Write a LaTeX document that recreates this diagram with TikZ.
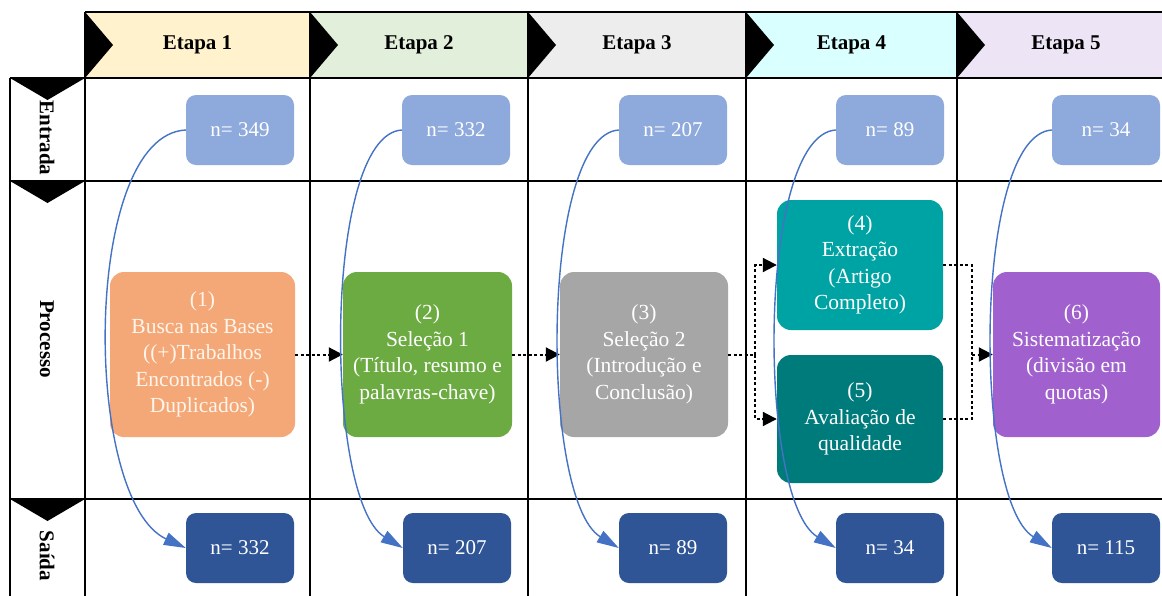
\documentclass[tikz,border=0pt]{standalone}
\usepackage{fontspec}
\setmainfont{Liberation Serif}
\usetikzlibrary{arrows.meta,calc}
\definecolor{hA}{HTML}{FFF2CC}
\definecolor{hB}{HTML}{E2EFDA}
\definecolor{hC}{HTML}{EDEDED}
\definecolor{hD}{HTML}{D9FFFF}
\definecolor{hE}{HTML}{EDE5F6}
\definecolor{inC}{HTML}{8EA9DB}
\definecolor{outC}{HTML}{2F5597}
\definecolor{pA}{HTML}{F4A878}
\definecolor{pB}{HTML}{6CAB42}
\definecolor{pC}{HTML}{A6A6A6}
\definecolor{pD}{HTML}{00A3A3}
\definecolor{pE}{HTML}{007B7B}
\definecolor{pF}{HTML}{A061CF}
\definecolor{curveC}{HTML}{4472C4}
\tikzset{
  gridline/.style={line width=2pt,black},
  nbox/.style={rounded corners=10pt,minimum width=108pt,minimum height=70pt,inner sep=0pt,
    text=white,font=\fontsize{21}{24}\selectfont},
  inbox/.style={nbox,fill=inC},
  outbox/.style={nbox,fill=outC},
  pbox/.style={rounded corners=14pt,inner sep=0pt,align=center,text=white,
    font=\fontsize{21.5}{26.5}\selectfont},
  hdr/.style={font=\bfseries\fontsize{21}{24}\selectfont},
  rowlab/.style={font=\bfseries\fontsize{21}{24}\selectfont,rotate=-90},
  dotc/.style={line width=2pt,black,dash pattern=on 3pt off 2.5pt},
  dotarrow/.style={dotc,-{Triangle[length=14pt,width=14pt]}},
  flow/.style={line width=1.4pt,curveC,-{Triangle[length=22pt,width=13pt]}},
}
\newcommand{\flowcurve}[3]{%
  \draw[flow] (#1.west) .. controls ($(#1.west)+(-#3,5)$) and ($(#2.west)+(-#3,-48)$) .. (#2.west);}
\begin{document}
\begin{tikzpicture}[x=1pt,y=-1pt]
\useasboundingbox (0,0) rectangle (1162,595);
\fill[white] (0,0) rectangle (1162,595);
% header fills
\fill[hA] (85,12) rectangle (310,78);
\fill[hB] (310,12) rectangle (528,78);
\fill[hC] (528,12) rectangle (746,78);
\fill[hD] (746,12) rectangle (957,78);
\fill[hE] (957,12) rectangle (1175,78);
% header triangles
\foreach \x in {85,310,528,746,957}{
  \fill[black] (\x,12) -- (\x+28,45) -- (\x,78) -- cycle;}
% row triangles
\foreach \y in {78,181,499}{
  \fill[black] (10,\y) -- (85,\y) -- (47.5,\y+22) -- cycle;}
% grid lines
\draw[line width=2.8pt] (85,12) -- (1175,12);
\foreach \y in {78,181,499}{\draw[gridline] (10,\y) -- (1175,\y);}
\draw[gridline] (10,78) -- (10,600);
\foreach \x in {85,310,528,746,957}{\draw[gridline] (\x,12) -- (\x,600);}
% headers
\node[hdr] (h1) at (197.5,45) {Etapa 1};
\node[hdr] (h2) at (419,45) {Etapa 2};
\node[hdr] (h3) at (637,45) {Etapa 3};
\node[hdr] (h4) at (851.5,45) {Etapa 4};
\node[hdr] (h5) at (1066,45) {Etapa 5};
% row labels
\node[rowlab] (r1) at (47,138) {Entrada};
\node[rowlab] (r2) at (47,339) {Processo};
\node[rowlab] (r3) at (47,556) {Saída};
% entrada boxes
\node[inbox] (e1) at (240,130) {n= 349};
\node[inbox] (e2) at (456,130) {n= 332};
\node[inbox] (e3) at (673,130) {n= 207};
\node[inbox] (e4) at (890,130) {n= 89};
\node[inbox] (e5) at (1106,130) {n= 34};
% saida boxes
\node[outbox] (s1) at (240,548) {n= 332};
\node[outbox] (s2) at (457,548) {n= 207};
\node[outbox] (s3) at (673,548) {n= 89};
\node[outbox] (s4) at (890,548) {n= 34};
\node[outbox] (s5) at (1106,548) {n= 115};
% process boxes
\node[pbox,fill=pA,text=white!92!orange,minimum width=185pt,minimum height=165pt] (p1) at (202.5,354.5)
  {(1)\\Busca nas Bases\\((+)Trabalhos\\Encontrados (-)\\Duplicados)};
\node[pbox,fill=pB,minimum width=169pt,minimum height=165pt] (p2) at (427.5,354.5)
  {(2)\\Seleção 1\\(Título, resumo e\\palavras-chave)};
\node[pbox,fill=pC,minimum width=168pt,minimum height=165pt] (p3) at (644,354.5)
  {(3)\\Seleção 2\\(Introdução e\\Conclusão)};
\node[pbox,fill=pD,minimum width=166pt,minimum height=130pt] (p4) at (860,265)
  {(4)\\Extração\\(Artigo\\Completo)};
\node[pbox,fill=pE,minimum width=166pt,minimum height=128pt] (p5) at (860,419)
  {(5)\\Avaliação de\\qualidade};
\node[pbox,fill=pF,minimum width=167pt,minimum height=165pt] (p6) at (1076.5,354.5)
  {(6)\\Sistematização\\(divisão em\\quotas)};
% dotted connectors
\draw[dotarrow] (p1.east) -- (p2.west);
\draw[dotarrow] (p2.east) -- (p3.west);
\coordinate (j1) at (755,354.5);
\coordinate (j2) at (972,354.5);
\draw[dotc] (p3.east) -- (j1);
\draw[dotarrow] (j1) |- (p4.west);
\draw[dotarrow] (j1) |- (p5.west);
\draw[dotc] (p4.east) -| (j2);
\draw[dotc] (p5.east) -| (j2);
\draw[dotarrow] (j2) -- (p6.west);
% flow curves
\flowcurve{e1}{s1}{104}
\flowcurve{e2}{s2}{79}
\flowcurve{e3}{s3}{79}
\flowcurve{e4}{s4}{79}
\flowcurve{e5}{s5}{79}
\end{tikzpicture}
\end{document}
